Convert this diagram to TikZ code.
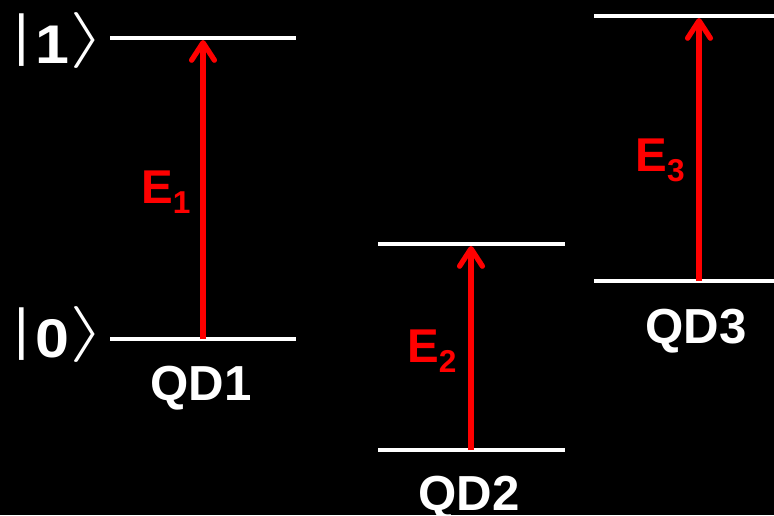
\documentclass[tikz,border=0pt]{standalone}
\usepackage{fontspec}
\setmainfont{Liberation Sans}
\usetikzlibrary{arrows.meta}
\newcommand{\lowidx}[1]{\raisebox{-6pt}{\fontsize{18}{18}\selectfont #1}}
\newcommand{\ketof}[1]{\raisebox{5pt}{\fontsize{32}{34}\mdseries|}\hspace{4pt}\scalebox{1.12}[1]{#1}\hspace{0pt}\raisebox{5pt}{\scalebox{2.1}[1.28]{$\rangle$}}}
\begin{document}
\begin{tikzpicture}[x=0.02cm, y=-0.02cm,
    level/.style={white, line width=2.8pt},
    trans/.style={red, line width=3pt, -{Straight Barb[length=10pt, width=13pt, round]}},
    qdlabel/.style={white, inner sep=0pt, anchor=base, font=\fontsize{28}{30}\selectfont\bfseries},
    elabel/.style={red, inner sep=0pt, anchor=base west, font=\fontsize{27}{30}\selectfont\bfseries},
    ket/.style={white, inner sep=0pt, anchor=base west, font=\fontsize{31}{33}\selectfont\bfseries}]
    \fill[black] (0,0) rectangle (774,515);
    \useasboundingbox (0,0) rectangle (774,515);

    % QD1
    \coordinate (a0l) at (110,339);
    \coordinate (a0r) at (296,339);
    \coordinate (a1l) at (110,38);
    \coordinate (a1r) at (296,38);
    \coordinate (a0) at (203,339);
    \coordinate (a1) at (203,40);
    \draw[level] (a0l) -- (a0r);
    \draw[level] (a1l) -- (a1r);
    \draw[trans] (a0) -- (a1);
    \node[qdlabel] (qd1) at (201,400) {QD1};
    \node[elabel] (e1) at (141,203) {E\lowidx{1}};
    \node[ket] (k1) at (14,63) {\ketof{1}};
    \node[ket] (k0) at (14,357) {\ketof{0}};

    % QD2
    \coordinate (b0l) at (378,450);
    \coordinate (b0r) at (565,450);
    \coordinate (b1l) at (378,244);
    \coordinate (b1r) at (565,244);
    \coordinate (b0) at (471,450);
    \coordinate (b1) at (471,246);
    \draw[level] (b0l) -- (b0r);
    \draw[level] (b1l) -- (b1r);
    \draw[trans] (b0) -- (b1);
    \node[qdlabel] (qd2) at (469,510) {QD2};
    \node[elabel] (e2) at (407,362) {E\lowidx{2}};

    % QD3
    \coordinate (c0l) at (594,281);
    \coordinate (c0r) at (774,281);
    \coordinate (c1l) at (594,16);
    \coordinate (c1r) at (774,16);
    \coordinate (c0) at (699,281);
    \coordinate (c1) at (699,18);
    \draw[level] (c0l) -- (c0r);
    \draw[level] (c1l) -- (c1r);
    \draw[trans] (c0) -- (c1);
    \node[qdlabel] (qd3) at (696,343) {QD3};
    \node[elabel] (e3) at (635,171) {E\lowidx{3}};
\end{tikzpicture}
\end{document}
